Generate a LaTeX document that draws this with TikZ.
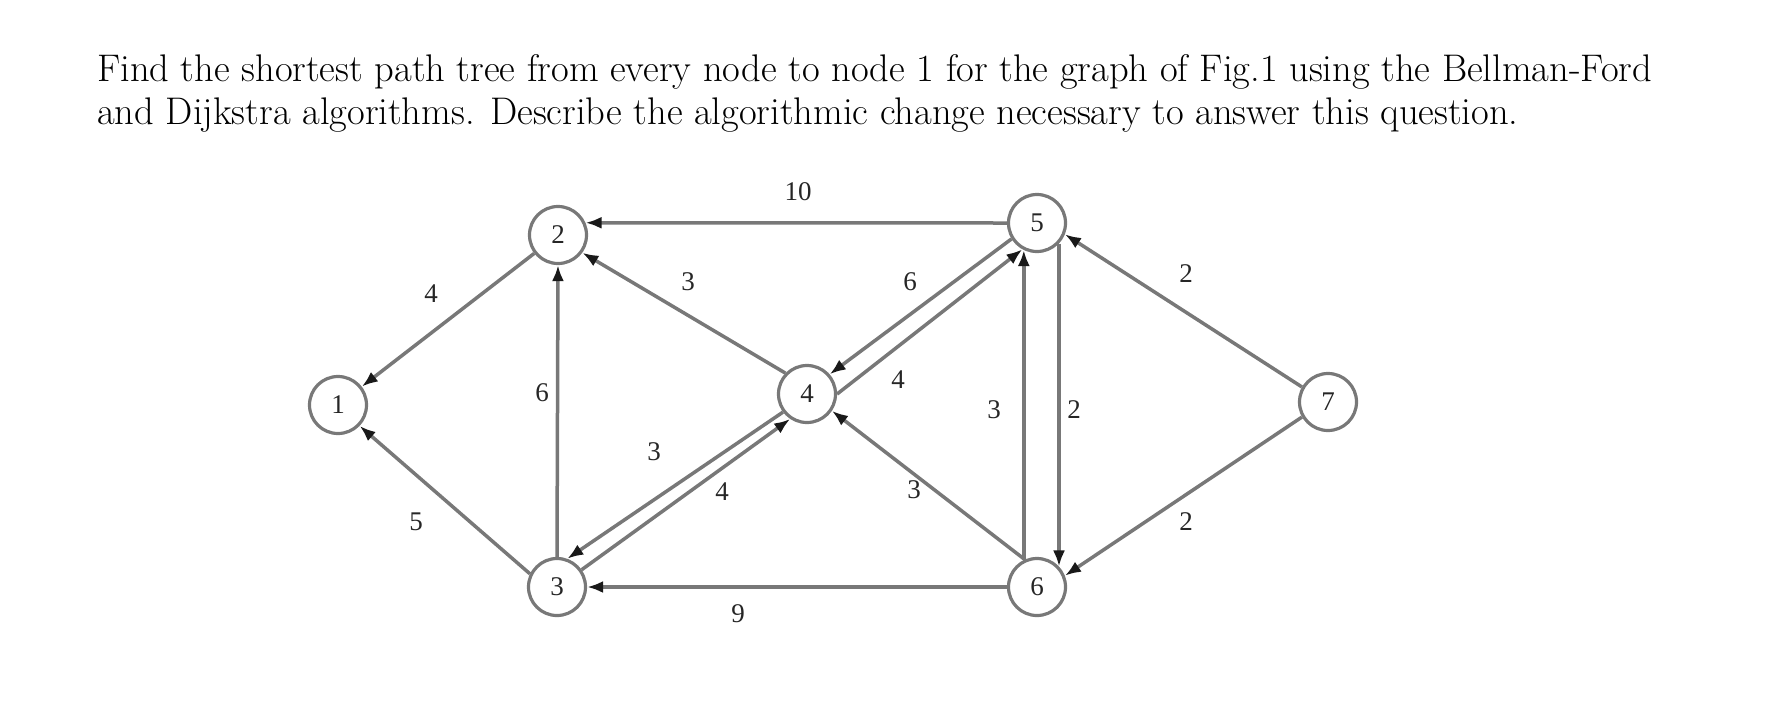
\documentclass[tikz,border=0pt]{standalone}
\usepackage{fontspec}
\newfontfamily\figfont{Liberation Serif}
\usetikzlibrary{arrows.meta}
\definecolor{edgegray}{RGB}{120,120,120}
\definecolor{tipgray}{RGB}{25,25,25}
\begin{document}
\begin{tikzpicture}[x=1pt,y=-1pt,
  vertex/.style={circle,draw=edgegray,line width=3.2pt,minimum size=57pt,inner sep=0pt,font=\figfont\fontsize{27}{27}\selectfont,text=black!85},
  wlabel/.style={font=\figfont\fontsize{27}{27}\selectfont,text=black!85,inner sep=0pt},
  edge/.style={draw=edgegray,line width=3.5pt,-{Latex[length=16pt,width=12pt,color=tipgray]}},
  title/.style={anchor=base west,inner sep=0pt,font=\fontsize{38.5}{44}\selectfont}]
\useasboundingbox (0,0) rectangle (1788,724);
\node[title] (t1) at (97,81) {Find the shortest path tree from every node to node 1 for the graph of Fig.1 using the Bellman-Ford};
\node[title] (t2) at (97,124) {and Dijkstra algorithms. Describe the algorithmic change necessary to answer this question.};
\node[vertex] (n1) at (338,405) {1};
\node[vertex] (n2) at (558,235) {2};
\node[vertex] (n3) at (557,587) {3};
\node[vertex] (n4) at (807,394) {4};
\node[vertex] (n5) at (1037,223) {5};
\node[vertex] (n6) at (1037,587) {6};
\node[vertex] (n7) at (1328,402) {7};
\draw[edge] (n2) -- (n1);
\draw[edge] (n3.154) -- (n1.316);
\draw[edge] (n3.north) -- (n2.south);
\draw[edge] (n4.136) -- (n2.324);
\draw[edge] (n5.west) -- (n2.24);
\draw[edge] (n4.217) -- (n3.70);
\draw[edge] (n3.35) -- (n4.236);
\draw[edge] (n5.212) -- (n4.41);
\draw[edge] (n4.0) -- (n5.241);
\draw[edge] (n6.116) -- (n5.244);
\draw[edge] (n5.317) -- (n6.43);
\draw[edge] (n6.114) -- (n4.326);
\draw[edge] (n7.150) -- (n5.338);
\draw[edge] (n7.210) -- (n6.22);
\draw[edge] (n6.west) -- (n3.east);
\node[wlabel] (w52) at (798,192) {10};
\node[wlabel] (w21) at (431,294) {4};
\node[wlabel] (w42) at (688,282) {3};
\node[wlabel] (w54) at (910,282) {6};
\node[wlabel] (w75) at (1186,274) {2};
\node[wlabel] (w32) at (542,393) {6};
\node[wlabel] (w45) at (898,380) {4};
\node[wlabel] (w65) at (994,410) {3};
\node[wlabel] (w56) at (1074,410) {2};
\node[wlabel] (w43) at (654,452) {3};
\node[wlabel] (w34) at (722,492) {4};
\node[wlabel] (w64) at (914,490) {3};
\node[wlabel] (w31) at (416,522) {5};
\node[wlabel] (w76) at (1186,522) {2};
\node[wlabel] (w63) at (738,614) {9};
\end{tikzpicture}
\end{document}
